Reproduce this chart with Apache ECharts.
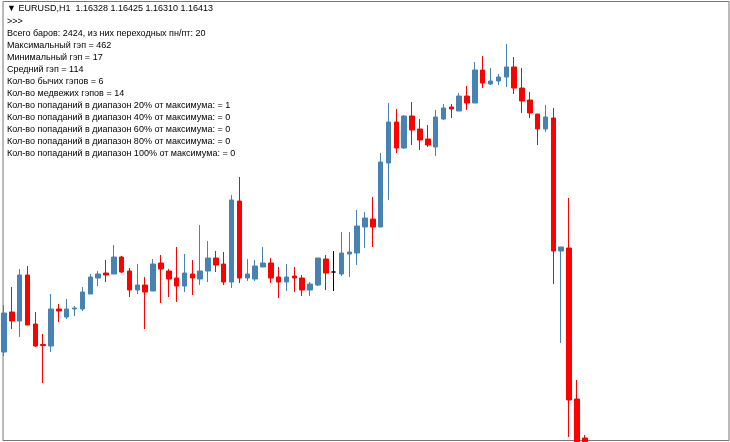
<!DOCTYPE html>
<html><head><meta charset="utf-8">
<script src="https://cdn.jsdelivr.net/npm/echarts@6/dist/echarts.min.js"></script>
<style>html,body{margin:0;padding:0;background:#fff}#c{width:730px;height:442px}</style>
</head><body><div id="c"></div>
<script>
// candles: [open, close, low, high] in chart price units
const opens  = [90,130,121,167,118,97.5,96,133,125,133,133,148,164,169,168,185,171,152,157,151,179,171,164,156,168,163,171,184,178,160,241,164,163,175,179,165,160,166,164,152,157,183,170,168,188,189,215,223,215,279,320,294,326,313,303,295,323,335,331,346,339,372,358,361,365,375,354,342,328,313,324,191,194,43,4];
const closes = [129,121,167,117,96,96.5,133,131,133,134,150,165,168,167,185,170,152,157,150,178,173,163,156,169,164,171,184,177,160,242,164,168,176,179,164,160,165,164,152,158,184,169,170,189,190,216,224,215,280,320,294,326,312,302,297,325,334,333,346,339,372,359,361,365,375,354,341,329,313,325,191,195,42,-28,-38];
const lows   = [86,113,105,117,95,59,90,120,123,126,131,148,156,160,168,169,145,148,113,151,139,145,140,150,147,157,160,170,157,154,159,161,161,175,159,144,151,150,146,146,156,152,151,166,165,177,194,195,215,242,289,293,297,292,295,286,322,324,331,332,339,354,357,357,355,348,329,324,297,310,158,99,5,-38,-48];
const highs  = [137,155,173,176,130,108,148,138,143,136,155,168,171,182,197,186,174,178,165,183,187,173,195,188,182,217,201,191,190,247,265,183,182,195,184,175,178,175,167,160,184,187,191,210,210,232,230,245,289,339,333,327,340,323,317,332,338,338,349,356,380,386,374,368,398,385,374,350,328,337,334,195,244,62,7];
const dojiIndex = 42;
const totalSlots = 93;
const infoLines = [
  '>>>',
  'Всего баров: 2424, из них переходных пн/пт: 20',
  'Максимальный гэп = 462',
  'Минимальный гэп = 17',
  'Средний гэп = 114',
  'Кол-во бычих гэпов = 6',
  'Кол-во медвежих гэпов = 14',
  'Кол-во попаданий в диапазон 20% от максимума: = 1',
  'Кол-во попаданий в диапазон 40% от максимума: = 0',
  'Кол-во попаданий в диапазон 60% от максимума: = 0',
  'Кол-во попаданий в диапазон 80% от максимума: = 0',
  'Кол-во попаданий в диапазон 100% от максимума: = 0'
];
const header = '▼ EURUSD,H1  1.16328 1.16425 1.16310 1.16413';

const cats = [];
for (let i = 0; i < totalSlots; i++) cats.push('b' + i);
const data = opens.map((o, i) => {
  const d = {value: [o, closes[i], lows[i], highs[i]]};
  if (i === dojiIndex) d.itemStyle = {color: '#000', borderColor: '#000', color0: '#000', borderColor0: '#000'};
  return d;
});

const font = 'Liberation Sans';
const graphics = [
  {type: 'rect', shape: {x: 3, y: 1.5, width: 726, height: 439}, style: {fill: 'none', stroke: '#777', lineWidth: 1}, silent: true},
  {type: 'text', left: 7, top: 4, style: {text: header, font: '9px "' + font + '"', fill: '#000'}}
];
infoLines.forEach((t, i) => {
  graphics.push({type: 'text', left: 7, top: 17 + i * 12, style: {text: t, font: '9px "' + font + '"', fill: '#000'}});
});

const chart = echarts.init(document.getElementById('c'));
chart.setOption({
  animation: false,
  grid: {left: 0, right: 0, top: 0, bottom: 0},
  xAxis: {type: 'category', data: cats, boundaryGap: true, show: false},
  yAxis: {type: 'value', min: 0, max: 442, show: false},
  series: [{
    type: 'candlestick',
    data: data,
    barWidth: 5,
    itemStyle: {color: '#4682B4', color0: '#FF0000', borderColor: '#4682B4', borderColor0: '#FF0000', borderWidth: 1}
  }],
  graphic: graphics
});
</script></body></html>
